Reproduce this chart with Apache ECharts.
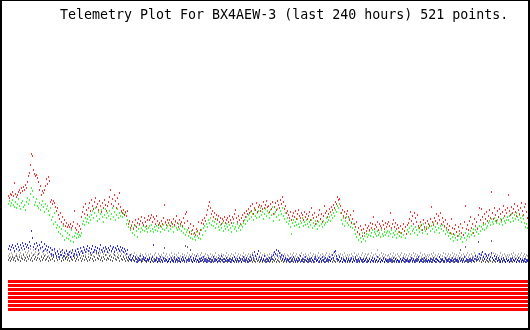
<!DOCTYPE html>
<html>
<head>
<meta charset="utf-8">
<script src="https://cdn.jsdelivr.net/npm/echarts@6/dist/echarts.min.js"></script>
<style>html,body{margin:0;padding:0;background:#fff}#c{width:530px;height:330px}</style>
</head>
<body>
<div id="c"></div>
<script>
var titleText = 'Telemetry Plot For BX4AEW-3 (last 240 hours) 521 points.';

var redValues = [
116,114,118,117,120,116,129,118,115,117,120,122,119,124,121,125,122,127,124,130,
136,139,147,158,156,142,138,136,137,134,130,122,126,117,121,119,122,126,133,128,
135,131,110,112,108,111,109,105,101,104,97,93,99,90,95,88,92,86,89,85,
87,85,88,84,86,90,101,84,82,88,80,86,83,95,100,105,98,108,102,97,
104,109,101,112,106,103,110,114,105,108,102,111,106,100,109,104,112,107,101,106,
110,115,122,108,113,106,117,111,104,114,108,119,105,101,99,102,97,100,96,101,
88,91,84,86,90,83,87,92,85,89,93,88,91,95,89,87,94,90,86,92,
96,92,94,97,90,95,93,88,96,91,87,89,86,91,88,94,107,90,87,92,
89,92,86,90,88,93,87,91,96,89,85,92,88,90,86,94,89,98,100,91,
84,80,88,78,82,86,79,77,83,81,90,78,82,89,92,88,94,91,97,102,
106,110,104,98,101,95,99,93,97,92,96,90,94,88,93,91,95,89,92,94,
90,96,92,89,95,93,98,102,94,90,96,92,88,94,97,91,99,95,101,98,
103,99,106,101,108,98,104,102,109,100,105,107,101,106,103,110,104,107,111,105,
106,100,108,103,110,98,105,109,102,111,107,104,112,108,115,110,103,106,99,101,
97,94,100,92,96,99,95,101,93,98,102,96,94,99,97,92,100,95,98,93,
96,100,92,104,97,94,99,88,95,91,97,102,93,98,90,96,106,99,101,95,
98,103,100,105,102,107,104,110,108,115,112,113,106,99,102,96,100,94,98,101,
95,92,97,89,93,101,88,85,90,80,84,78,86,82,76,83,79,87,81,84,
86,82,89,84,88,95,83,87,85,90,82,88,86,84,91,87,83,89,85,88,
90,86,99,84,88,92,85,89,83,87,84,80,86,79,83,88,81,85,78,87,
89,93,100,91,96,88,99,94,90,97,86,84,90,87,82,92,85,89,83,91,
88,86,93,105,90,87,94,91,98,89,96,92,99,88,94,90,86,92,84,88,
82,86,79,93,84,78,83,87,80,76,85,81,88,79,84,77,90,106,83,87,
82,91,95,84,88,79,93,86,90,83,97,104,92,103,95,89,98,93,100,91,
96,102,94,120,99,93,104,97,91,101,95,103,98,92,100,106,96,102,99,104,
117,101,97,105,99,103,108,100,96,106,102,98,104,109,101,97,105,108,100,94,
96];

var greenValues = [
108,111,106,109,112,107,105,110,104,108,113,106,103,109,111,105,107,102,110,114,
108,112,118,124,121,115,107,110,113,106,104,109,102,107,111,105,100,108,103,106,
101,97,104,92,95,88,99,90,84,87,80,85,78,83,76,86,72,81,74,79,
73,77,71,82,75,70,76,79,74,78,75,77,76,79,88,91,87,94,90,93,
89,95,92,97,101,94,99,104,96,91,100,93,98,102,95,90,97,103,94,99,
96,101,93,98,104,95,100,92,97,103,94,99,96,100,95,98,97,99,88,92,
85,90,82,87,79,84,77,86,81,75,83,87,80,84,82,86,81,85,83,80,
84,86,81,87,83,80,85,82,86,81,84,88,80,85,83,87,82,89,84,86,
81,87,83,89,85,80,86,90,84,82,88,83,86,81,85,79,83,77,80,82,
76,79,74,81,73,78,75,72,80,76,74,79,73,82,77,84,86,81,88,85,
92,89,94,87,91,86,90,84,88,93,85,82,87,84,89,81,86,83,88,85,
82,87,84,80,86,89,83,85,81,88,84,86,82,87,85,89,92,88,95,91,
97,93,100,95,98,92,102,96,94,99,101,95,104,97,100,93,98,103,96,101,
99,94,102,97,105,91,98,100,95,103,97,92,101,98,104,96,93,99,90,94,
88,91,85,78,89,92,86,90,87,93,88,85,91,89,94,86,90,87,92,88,
85,90,87,92,84,89,86,91,88,83,90,86,93,88,85,91,87,89,94,90,
92,95,91,97,94,99,96,102,100,106,104,108,99,92,88,94,86,91,95,89,
87,93,85,90,84,88,82,78,75,80,72,77,74,70,79,73,76,71,78,75,
77,81,76,79,82,75,80,78,76,81,77,79,75,82,78,76,80,77,79,81,
76,80,78,82,75,79,77,81,74,78,80,76,79,75,83,77,81,74,78,82,
80,84,78,86,81,83,79,85,82,77,84,80,86,82,79,88,83,81,85,78,
84,87,81,86,83,89,80,85,82,88,84,79,86,83,87,81,85,78,82,80,
76,79,73,78,75,71,77,74,80,72,76,78,73,75,70,77,74,79,72,76,
78,75,81,77,79,83,76,82,80,84,78,86,81,85,83,87,82,88,84,86,
89,91,87,93,90,88,94,91,89,92,95,88,93,90,87,94,91,89,92,95,
92,96,90,98,94,91,97,93,99,95,92,97,94,90,96,93,89,85,88,84,
82];

var blueValues = [
63,66,62,65,67,64,61,66,63,68,65,62,67,64,69,66,63,68,65,67,
64,70,66,81,74,65,68,63,69,66,62,67,64,70,65,61,68,63,66,62,
65,60,64,58,62,57,63,59,56,61,58,55,60,57,62,56,59,54,61,58,
57,60,55,59,62,56,58,61,57,63,60,58,64,61,59,65,62,60,63,66,
61,64,59,63,66,60,62,65,61,64,59,63,67,62,60,64,61,65,63,60,
64,62,66,61,63,65,60,64,62,66,63,61,65,62,64,60,63,61,58,62,
55,53,57,52,54,56,51,55,53,50,54,52,56,51,53,55,52,54,51,53,
52,54,50,53,55,67,51,52,54,50,53,51,55,52,50,54,51,53,52,50,
51,53,50,54,52,51,55,50,53,52,54,51,50,53,55,52,51,54,50,52,
53,51,55,52,50,54,51,53,56,52,50,53,51,54,52,55,51,53,50,52,
54,51,53,50,52,55,51,53,52,50,54,51,53,56,52,50,53,51,54,52,
51,53,50,52,54,51,55,52,50,53,51,54,52,50,53,55,51,52,54,50,
53,51,55,52,57,54,60,56,53,58,61,55,52,54,51,53,56,52,50,53,
51,54,52,55,53,57,60,58,62,56,61,59,55,57,53,56,52,54,51,53,
52,50,54,51,53,55,52,50,53,51,54,52,56,51,53,50,52,55,51,53,
50,53,51,54,52,50,53,55,51,52,54,50,53,51,55,52,50,54,51,53,
52,55,51,53,57,54,60,61,56,53,52,55,51,54,50,53,52,51,54,50,
53,51,52,54,50,53,51,55,52,50,53,51,54,52,50,53,51,52,54,50,
51,53,50,52,54,51,53,50,52,55,51,53,50,52,51,54,50,53,51,52,
50,53,51,52,50,54,51,53,50,52,51,50,53,51,52,54,50,52,51,53,
51,50,52,54,51,53,50,52,51,53,55,50,52,51,53,50,54,52,51,50,
52,51,53,50,52,54,51,50,53,52,51,55,50,52,53,51,50,54,52,51,
53,50,52,51,54,52,50,53,51,52,50,54,51,53,50,52,55,51,53,52,
50,53,51,52,54,51,53,56,52,55,53,58,54,57,60,55,53,58,56,54,
57,53,55,59,54,52,56,53,55,51,54,52,50,53,51,54,52,50,53,51,
52,50,53,51,54,52,51,53,50,52,54,51,53,50,52,51,53,50,52,51,
50];

var lightGrayValues = [
56,58,55,59,57,54,60,56,58,55,61,57,59,56,62,58,55,60,57,59,
61,57,63,59,56,62,58,60,64,57,61,59,63,56,60,58,62,57,61,59,
56,60,58,62,57,55,61,59,56,60,58,63,57,61,59,55,60,58,62,56,
59,57,61,55,60,58,56,62,59,57,63,58,60,56,61,59,64,57,60,62,
58,61,57,63,59,56,60,62,58,64,57,61,59,55,62,58,60,63,57,61,
59,62,57,60,64,58,61,56,63,59,57,62,60,58,61,56,59,57,55,58,
54,57,55,58,53,56,59,54,57,55,52,56,58,53,57,55,54,58,56,53,
57,55,58,54,56,53,57,59,55,54,58,56,53,57,55,59,54,56,58,55,
53,57,55,59,56,54,58,52,57,55,59,54,56,53,58,55,57,54,56,59,
55,57,53,56,58,54,57,55,52,58,56,54,57,59,55,53,56,58,54,57,
56,53,58,55,57,54,56,59,55,53,57,56,54,58,55,57,53,56,59,55,
57,54,56,58,53,57,55,59,54,56,58,55,57,53,56,59,55,57,54,56,
58,55,57,54,59,56,53,57,55,58,54,56,59,55,57,53,58,56,54,57,
55,58,54,57,56,59,55,53,57,58,54,56,59,55,57,54,58,56,53,57,
56,54,58,55,57,59,54,56,58,55,53,57,56,59,54,57,55,58,56,54,
57,55,59,54,56,58,55,57,53,56,59,55,57,54,58,56,55,57,59,54,
56,58,55,57,54,59,56,58,55,53,57,56,58,54,57,55,59,56,54,57,
55,57,54,58,56,55,59,54,57,56,58,55,53,57,59,54,56,58,55,57,
58,54,56,59,55,57,54,58,56,62,55,57,54,59,56,58,55,57,53,56,
57,55,58,54,56,59,55,57,54,58,56,55,57,59,54,56,58,55,57,54,
56,58,55,57,54,59,56,58,55,57,53,56,59,55,57,54,58,56,55,57,
55,57,54,58,56,59,55,57,54,56,58,55,57,53,56,59,55,58,54,56,
58,55,57,54,59,56,58,55,57,54,56,59,55,57,54,58,56,55,57,59,
55,57,54,58,56,55,59,57,54,56,58,55,57,59,54,56,58,55,57,54,
56,58,55,57,54,59,56,58,55,57,54,56,59,55,57,54,58,56,55,57,
55,57,54,58,56,59,55,57,54,56,58,55,57,59,54,56,58,55,57,56,
55];

var darkGrayValues = [
52,54,51,53,55,52,54,51,56,53,52,55,51,54,53,57,52,54,51,55,
53,56,52,54,51,57,53,55,52,54,58,53,51,55,52,54,56,52,53,55,
51,54,52,56,53,55,51,58,54,52,55,53,57,51,54,52,56,53,55,52,
54,51,55,53,52,56,54,51,53,55,52,57,54,51,53,56,52,55,53,51,
55,52,54,57,53,51,55,52,59,54,53,56,52,54,51,55,53,57,52,54,
53,56,52,55,51,54,57,53,52,55,54,51,56,53,52,55,53,51,54,52,
51,53,52,51,54,52,51,53,50,52,51,53,52,50,51,53,52,51,50,52,
51,53,50,52,51,50,53,51,52,50,51,53,50,52,51,53,64,51,52,50,
51,53,50,52,51,50,53,51,52,50,51,53,50,52,51,53,50,66,52,65,
51,53,62,51,50,52,51,53,50,52,51,50,53,51,52,50,53,51,52,50,
51,53,50,52,51,50,53,51,52,50,51,53,50,52,51,53,50,52,51,50,
52,51,53,50,52,51,50,53,51,52,50,51,53,50,52,51,53,50,52,51,
50,52,51,53,50,52,51,50,53,51,52,50,51,53,50,52,51,50,53,51,
52,50,51,53,50,52,51,53,50,52,51,50,53,51,52,50,51,53,50,52,
51,53,50,52,51,50,53,51,52,50,51,53,50,52,51,53,50,52,51,50,
52,51,53,50,52,51,50,53,51,52,50,51,53,50,52,51,53,50,52,51,
50,52,51,53,50,52,51,50,53,51,52,50,51,53,50,52,51,50,53,51,
52,50,51,53,50,52,51,53,50,52,51,50,53,51,52,50,51,53,50,52,
51,53,50,52,51,50,53,51,52,50,51,53,50,52,51,53,50,52,51,50,
52,51,53,50,52,51,50,53,51,52,50,51,53,50,52,51,53,50,52,51,
50,52,51,53,50,52,51,50,53,51,52,50,51,53,50,52,51,50,53,51,
52,50,51,53,50,52,51,53,50,52,51,50,53,51,52,50,51,53,50,52,
51,53,50,52,51,50,53,51,52,50,51,53,62,52,51,53,50,65,51,50,
52,51,53,50,52,51,50,53,51,52,70,51,53,50,52,51,53,50,52,51,
50,52,51,71,50,52,51,50,53,51,52,50,51,53,50,52,51,50,53,51,
52,50,51,53,50,52,51,53,50,52,51,50,53,51,52,50,51,53,50,52,
51];

// eight digital channels, all high, each drawn as a band at its own level
var bitLevels = [30.5, 26.5, 22.5, 18.5, 14.5, 10.5, 6.5, 2.5];

function pts(arr) { return arr.map(function (v, i) { return [i, v]; }); }

var series = [];
bitLevels.forEach(function (lvl) {
  series.push({
    type: 'line', data: [[-0.5, lvl], [520.5, lvl]], showSymbol: false, silent: true,
    lineStyle: { color: '#ff0000', width: 3, cap: 'butt' }, z: 1
  });
});
function scat(arr, color, z) {
  return { type: 'scatter', data: pts(arr), symbol: 'rect', symbolSize: [1, 2],
    itemStyle: { color: color }, silent: true, z: z };
}
series.push(scat(lightGrayValues, '#a0a0a0', 2));
series.push(scat(darkGrayValues, '#404040', 3));
series.push(scat(blueValues, '#0000ff', 4));
series.push(scat(greenValues, '#00ff00', 5));
series.push(scat(redValues, '#ff0000', 6));

var chart = echarts.init(document.getElementById('c'), null, { renderer: 'canvas' });
chart.setOption({
  animation: false,
  backgroundColor: '#ffffff',
  title: {
    text: titleText, left: 60, top: 9, padding: 0,
    textStyle: { fontFamily: '"DejaVu Sans Mono", monospace', fontSize: 13.3, fontWeight: 'normal', color: '#000' }
  },
  grid: { left: 8, top: 30, width: 521, height: 282 },
  xAxis: { type: 'value', min: -0.5, max: 520.5, show: false },
  yAxis: { type: 'value', min: 0, max: 282, show: false },
  series: series,
  graphic: [
    { type: 'rect', shape: { x: 0, y: 0, width: 530, height: 1 }, style: { fill: '#000' }, z: 100 },
    { type: 'rect', shape: { x: 0, y: 0, width: 2, height: 330 }, style: { fill: '#000' }, z: 100 },
    { type: 'rect', shape: { x: 528, y: 0, width: 2, height: 330 }, style: { fill: '#000' }, z: 100 },
    { type: 'rect', shape: { x: 0, y: 328, width: 530, height: 2 }, style: { fill: '#000' }, z: 100 }
  ]
});
</script>
</body>
</html>
